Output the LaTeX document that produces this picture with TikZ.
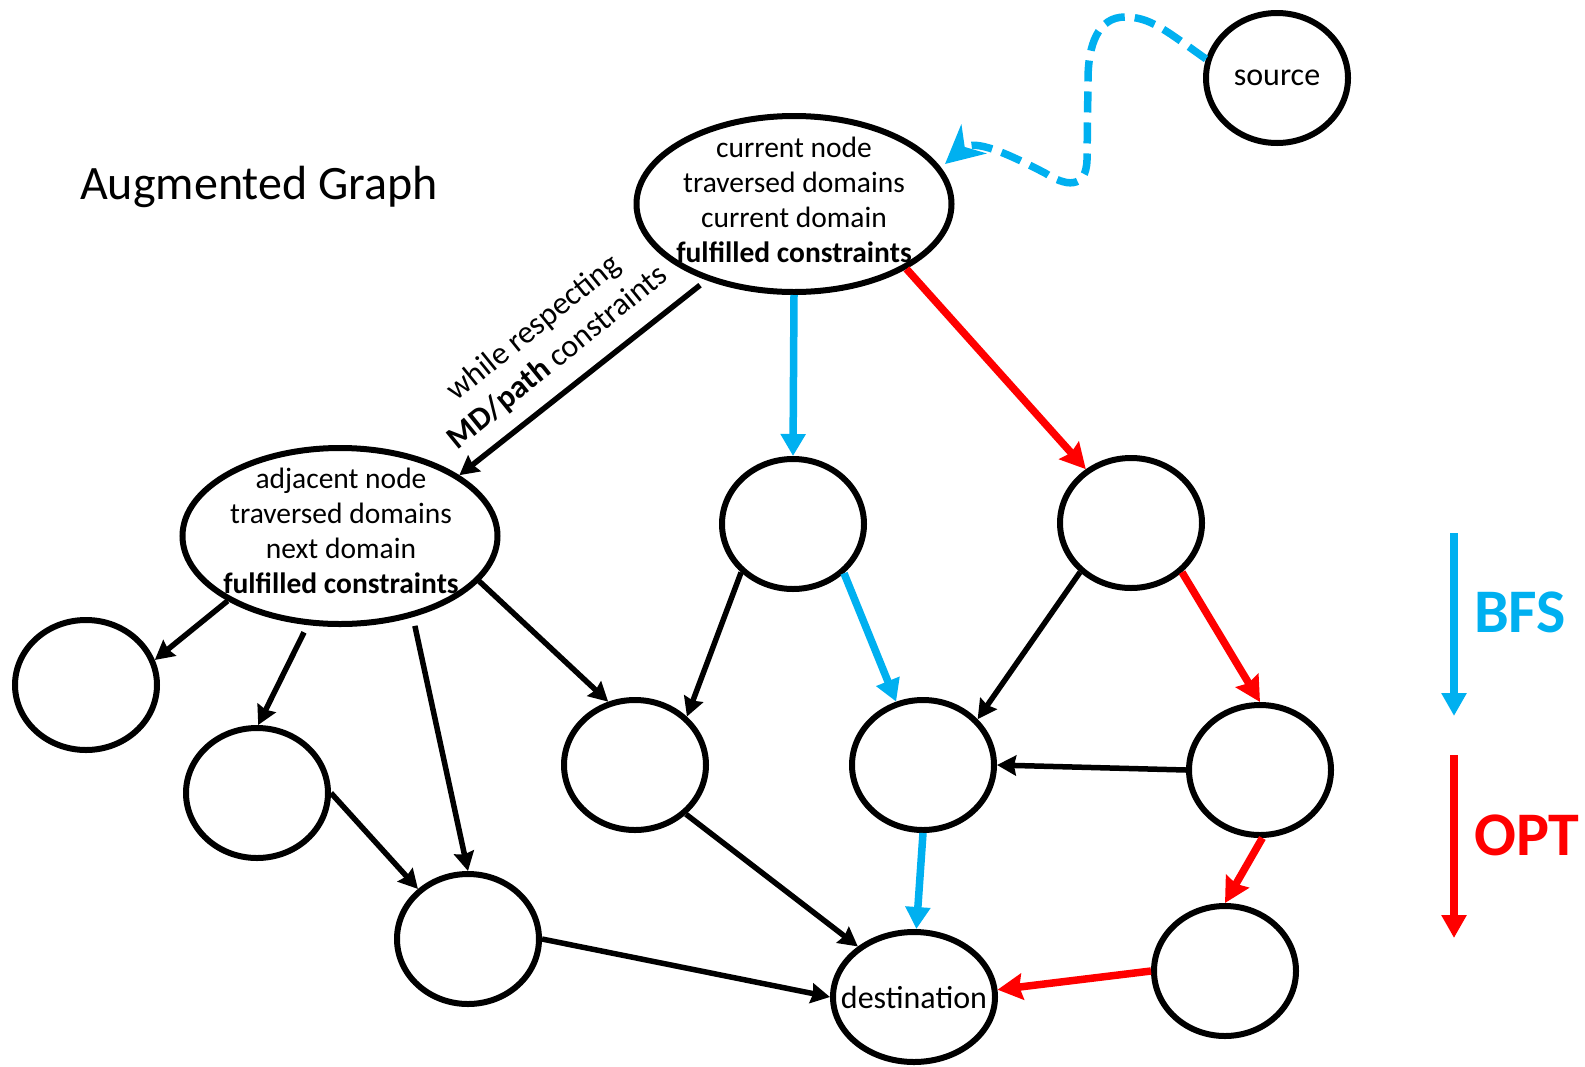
\documentclass[tikz,border=0pt]{standalone}
\usepackage{fontspec}
\setmainfont{Carlito}
\usetikzlibrary{shapes.geometric,arrows.meta}
\definecolor{pblue}{HTML}{00B0F0}
\definecolor{pred}{HTML}{FF0000}
\begin{document}
\begin{tikzpicture}[x=1pt,y=-1pt,
  gnode/.style={ellipse,draw,line width=6pt,minimum width=142pt,minimum height=130pt,inner sep=0pt},
  bignode/.style={gnode,minimum width=315pt,minimum height=176pt},
  txt/.style={align=center,font=\fontsize{29.5}{35}\selectfont,inner sep=0pt},
  bigtxt/.style={txt,font=\fontsize{32}{38}\selectfont},
  blk/.style={line width=5.5pt,-{Stealth[length=19pt,width=20pt,inset=2pt]}},
  redarr/.style={pred,line width=7.5pt,-{Stealth[length=25pt,width=26pt,inset=3pt]}},
  bluearr/.style={pblue,line width=7.5pt,-{Triangle[length=22pt,width=24pt]}},
  bluedash/.style={pblue,line width=7.5pt,dash pattern=on 21pt off 10pt,-{Stealth[length=38pt,width=38pt,inset=12pt]}},
  legblue/.style={pblue,line width=7.5pt,-{Triangle[length=23pt,width=24pt]}},
  legred/.style={pred,line width=7.5pt,-{Triangle[length=23pt,width=24pt]}},
  legtxt/.style={anchor=west,font=\fontsize{62}{70}\selectfont\bfseries,inner sep=0pt}
]
\useasboundingbox (0,0) rectangle (1585,1066);

% nodes
\node[gnode] (src) at (1277,78) {};
\node[bigtxt] (srctext) at (src) {source};
\node[bignode] (cur) at (794,204) {};
\node[txt] (curtext) at (794,200) {current node\\traversed domains\\current domain\\\textbf{fulfilled constraints}};
\node[bignode] (adj) at (340,536) {};
\node[txt] (adjtext) at (341,531) {adjacent node\\traversed domains\\next domain\\\textbf{fulfilled constraints}};
\node[gnode] (n1) at (793,524) {};
\node[gnode] (n2) at (1131,523) {};
\node[gnode] (L) at (86,685) {};
\node[gnode] (B1) at (257,793) {};
\node[gnode] (C1) at (635,765) {};
\node[gnode] (D1) at (923,765) {};
\node[gnode] (E1) at (1260,770) {};
\node[gnode] (F) at (468,939) {};
\node[gnode] (G) at (1225,971) {};
\node[gnode,minimum width=162pt] (dest) at (914,997) {};
\node[bigtxt] (desttext) at (dest) {destination};

\node[anchor=west,font=\fontsize{48}{54}\selectfont,inner sep=0pt] (title) at (80,187) {Augmented Graph};

\node[txt,rotate=39,font=\fontsize{32}{38}\selectfont] (lbl) at (546,343) {while respecting\\\textbf{MD/path} constraints};

% dashed source path
\coordinate (dashend) at (945,164);
\draw[bluedash] (src.165) .. controls (1165,30) and (1150,17) .. (1125,17)
  .. controls (1098,17) and (1088,45) .. (1088,80) -- (1087,160)
  .. controls (1086,190) and (1065,186) .. (1045,173)
  .. controls (1010,155) and (975,138) .. (dashend);

% edges
\draw[blk,shorten <=8pt] (cur.-139) -- (adj.27);
\draw[bluearr] (cur.-90) -- (n1.90);
\draw[redarr] (cur.-30) -- (n2.130);
\draw[blk] (adj.-150) -- (L.20);
\draw[blk,shorten <=8pt] (adj.-110) -- (B1.89);
\draw[blk,shorten <=9pt] (adj.-48) -- (F.90);
\draw[blk] (adj.-18) -- (C1.113);
\draw[blk] (n1.-137) -- (C1.43);
\draw[bluearr] (n1.-44) -- (D1.113);
\draw[blk] (n2.-136) -- (D1.40);
\draw[redarr] (n2.-44) -- (E1.90);
\draw[blk] (E1.180) -- (D1.0);
\draw[redarr] (E1.-88) -- (G.90);
\draw[redarr] (G.180) -- (dest.5);
\draw[bluearr] (D1.-90) -- (dest.88);
\draw[blk] (C1.-44) -- (dest.138);
\draw[blk] (F.0) -- (dest.180);
\draw[blk] (B1.0) -- (F.135);

% legend
\coordinate (bfsa) at (1454,533);
\coordinate (bfsb) at (1454,716);
\coordinate (opta) at (1454,755);
\coordinate (optb) at (1454,938);
\draw[legblue] (bfsa) -- (bfsb);
\draw[legred] (opta) -- (optb);
\node[legtxt,text=pblue] (bfs) at (1474,612) {BFS};
\node[legtxt,text=pred] (opt) at (1474,835) {OPT};
\end{tikzpicture}
\end{document}
